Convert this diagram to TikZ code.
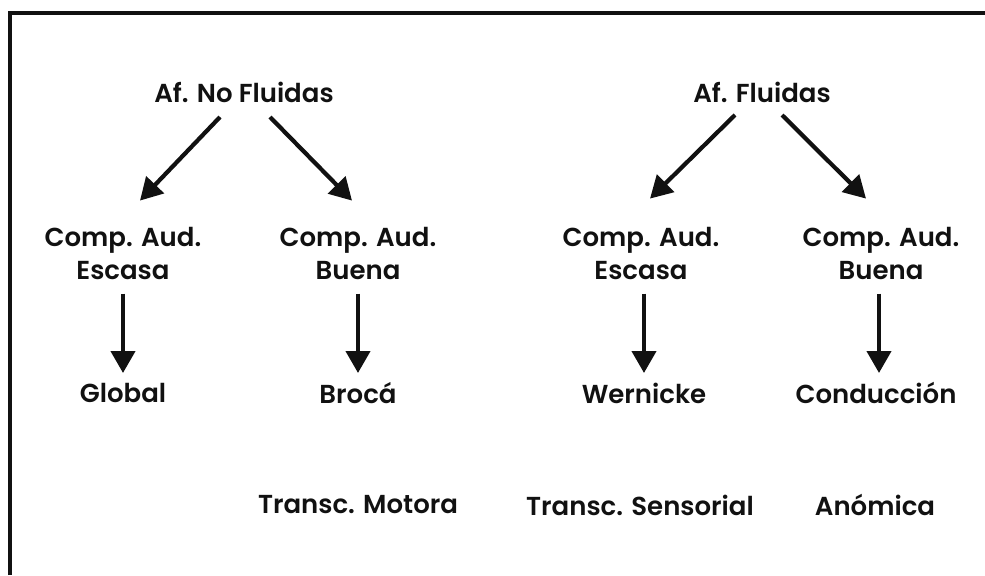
\documentclass[tikz,border=0pt]{standalone}
\usepackage{fontspec}
\setmainfont{Poppins}[BoldFont={Poppins SemiBold}]
\usepackage{tikz}
\usetikzlibrary{arrows.meta, calc}
\definecolor{InkBlack}{HTML}{111111}

\begin{document}
\begin{tikzpicture}[
    lbl/.style={text=InkBlack, align=center, inner sep=0pt, font=\bfseries\fontsize{18.5}{23.5}\selectfont},
    arr/.style={draw=InkBlack, line width=3pt, -{Triangle[length=0.55cm, width=0.6cm]}}
  ]
      \useasboundingbox (0,0) rectangle (24.625,-14.375);
      \draw[InkBlack, line width=2.4pt] (0.25,-14.375) -- (0.25,-0.325) -- (24.625,-0.325);

      \node[lbl] (nofl) at (6.1,-2.3) {Af. No Fluidas};
      \node[lbl] (fl) at (19.05,-2.3) {Af. Fluidas};

      \node[lbl] (escL) at (3.075,-6.34) {Comp. Aud.\\Escasa};
      \node[lbl] (buenaL) at (8.95,-6.34) {Comp. Aud.\\Buena};
      \node[lbl] (escR) at (16.025,-6.34) {Comp. Aud.\\Escasa};
      \node[lbl] (buenaR) at (22.025,-6.34) {Comp. Aud.\\Buena};

      \node[lbl] (global) at (3.075,-9.825) {Global};
      \node[lbl] (broca) at (8.95,-9.825) {Brocá};
      \node[lbl] (wern) at (16.1,-9.825) {Wernicke};
      \node[lbl] (cond) at (21.9,-9.825) {Conducción};

      \node[lbl] (motora) at (8.95,-12.625) {Transc. Motora};
      \node[lbl] (sensorial) at (16.0,-12.625) {Transc. Sensorial};
      \node[lbl] (anomica) at (21.875,-12.625) {Anómica};

      \draw[arr] ($(nofl)+(-0.6,-0.625)$) -- ($(escL)+(0.425,1.325)$);
      \draw[arr] ($(nofl)+(0.65,-0.625)$) -- ($(buenaL)+(-0.15,1.325)$);
      \draw[arr] ($(fl)+(-0.675,-0.575)$) -- ($(escR)+(0.225,1.375)$);
      \draw[arr] ($(fl)+(0.5,-0.575)$) -- ($(buenaR)+(-0.375,1.375)$);

      \draw[arr] ($(escL)+(0,-1)$) -- ($(global)+(0,0.5)$);
      \draw[arr] ($(buenaL)+(0,-1)$) -- ($(broca)+(0,0.5)$);
      \draw[arr] ($(escR)+(0.075,-1)$) -- ($(escR|-wern)+(0.075,0.5)$);
      \draw[arr] ($(buenaR)+(-0.05,-1)$) -- ($(buenaR|-cond)+(-0.05,0.5)$);
    \end{tikzpicture}
\end{document}
